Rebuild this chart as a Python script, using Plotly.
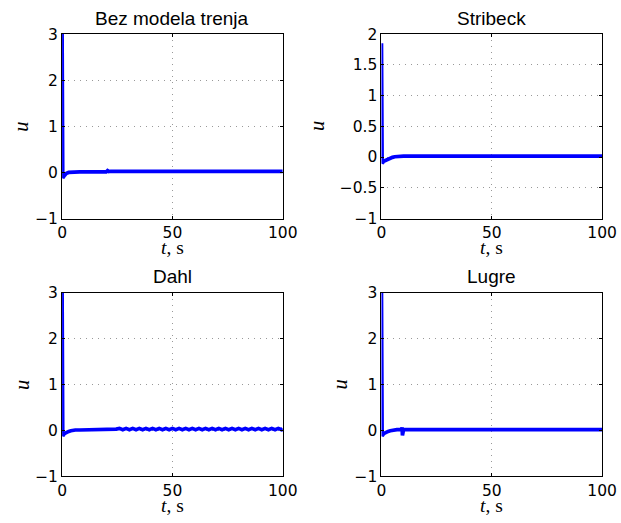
import plotly.graph_objects as go

# ---------------- data ----------------
titles = ["Bez modela trenja", "Stribeck", "Dahl", "Lugre"]

t_bez = [0, 0.3, 0.6, 1, 1.5, 2, 3, 4, 5, 6, 8, 10, 15, 20, 20.6, 21.2, 22, 30, 40, 60, 80, 100]
u_bez = [3.0, -0.12, -0.1, -0.07, -0.04, -0.02, 0.0, 0.005, 0.01, 0.01, 0.01, 0.01, 0.01, 0.01,
         0.04, 0.02, 0.025, 0.025, 0.025, 0.025, 0.025, 0.025]

t_str = [0, 0.3, 0.6, 1, 2, 3, 4, 5, 6, 7, 8, 10, 20, 50, 100]
u_str = [1.85, -0.1, -0.09, -0.07, -0.05, -0.03, -0.015, -0.005, 0.005, 0.01, 0.015, 0.015,
         0.015, 0.015, 0.015]

t_dahl = [0, 0.3, 0.6, 1, 2, 3, 4, 5, 6, 8, 10, 15, 20, 20.6,
          24.5, 26, 27.5, 29, 30.5, 32, 33.5, 35, 36.5, 38, 39.5, 41, 42.5, 44,
          45.5, 47, 48.5, 50, 51.5, 53, 54.5, 56, 57.5, 59, 60.5, 62, 63.5, 65, 66.5, 68,
          69.5, 71, 72.5, 74, 75.5, 77, 78.5, 80, 81.5, 83, 84.5, 86, 87.5, 89, 90.5, 92,
          93.5, 95, 96.5, 98, 99.5, 100]
u_dahl = [3.0, -0.12, -0.1, -0.07, -0.04, -0.02, -0.005, 0.005, 0.01, 0.01, 0.01, 0.01, 0.01, 0.03,
          0.03, 0.045, 0.015, 0.045, 0.015, 0.045, 0.015, 0.045, 0.015, 0.045, 0.015, 0.045,
          0.015, 0.045, 0.015, 0.045, 0.015, 0.045, 0.015, 0.045, 0.015, 0.045, 0.015, 0.045,
          0.015, 0.045, 0.015, 0.045, 0.015, 0.045, 0.015, 0.045, 0.015, 0.045, 0.015, 0.045,
          0.015, 0.045, 0.015, 0.045, 0.015, 0.045, 0.015, 0.045, 0.015, 0.045, 0.015, 0.045,
          0.015, 0.045, 0.015, 0.045, 0.015, 0.03]

t_lug = [0, 0.3, 0.6, 1, 2, 3, 4, 5, 6, 7, 9.2, 9.35, 9.5, 9.65, 10, 15, 50, 100]
u_lug = [3.0, -0.12, -0.1, -0.07, -0.04, -0.02, -0.005, 0.005, 0.015, 0.02, 0.02, 0.07, -0.11,
         0.02, 0.02, 0.02, 0.02, 0.02]

x_ticks = [0, 50, 100]
y_ticks_main = [-1, 0, 1, 2, 3]
y_ticks_str = [-1, -0.5, 0, 0.5, 1, 1.5, 2]
y_range_main = [-1, 3]
y_range_str = [-1, 2]

series = [(t_bez, u_bez), (t_str, u_str), (t_dahl, u_dahl), (t_lug, u_lug)]

# ---------------- layout ----------------
W, H = 621, 523
col_px = [(59, 287), (389, 617)]
row_px = [(26, 217), (294, 484)]
ylab_gap = [42, 66, 42, 43]

fig = go.Figure()
layout = dict(width=W, height=H, margin=dict(l=0, r=0, t=0, b=0),
              paper_bgcolor="white", plot_bgcolor="white", showlegend=False,
              annotations=[])

tick_font = dict(family="DejaVu Sans", size=15.5, color="black")
for i, (t, u) in enumerate(series):
    r, c = divmod(i, 2)
    n = "" if i == 0 else str(i + 1)
    x0, x1 = col_px[c]
    y0, y1 = row_px[r]
    xd = [x0 / W, x1 / W]
    yd = [1 - y1 / H, 1 - y0 / H]
    fig.add_trace(go.Scatter(x=t, y=u, mode="lines", xaxis="x" + n, yaxis="y" + n,
                             line=dict(color="#0000ff", width=3.7)))
    common = dict(showline=True, linecolor="black", linewidth=1, mirror="ticks",
                  ticks="inside", ticklen=3, tickcolor="black", showgrid=True,
                  gridcolor="#999999", griddash="1px,5px", gridwidth=1,
                  zeroline=False, tickfont=tick_font)
    layout["xaxis" + n] = dict(domain=xd, anchor="y" + n, range=[0, 100],
                               tickvals=x_ticks, **common)
    if i == 1:
        layout["yaxis" + n] = dict(domain=yd, anchor="x" + n, range=y_range_str,
                                   tickvals=y_ticks_str, **common)
    else:
        layout["yaxis" + n] = dict(domain=yd, anchor="x" + n, range=y_range_main,
                                   tickvals=y_ticks_main, **common)
    cx = (x0 + x1) / 2 / W
    # title
    layout["annotations"].append(dict(
        text=titles[i], x=cx, y=1 - (y0 - 16.5) / H, xref="paper", yref="paper",
        xanchor="center", yanchor="middle", showarrow=False,
        font=dict(family="Liberation Sans", size=19, color="black")))
    # x label
    layout["annotations"].append(dict(
        text="<i>t</i>, s", x=cx, y=1 - (y1 + 30) / H, xref="paper", yref="paper",
        xanchor="center", yanchor="middle", showarrow=False,
        font=dict(family="Liberation Serif", size=19.5, color="black")))
    # y label
    layout["annotations"].append(dict(
        text="<i>u</i>", x=(x0 - ylab_gap[i]) / W, y=1 - ((y0 + y1) / 2) / H,
        xref="paper", yref="paper",
        xanchor="center", yanchor="middle", showarrow=False, textangle=-90,
        font=dict(family="Liberation Serif", size=20.5, color="black")))

fig.update_layout(**layout)
fig.write_html("out.html", config={"displayModeBar": False},
               post_script="document.body.style.margin='0';document.body.style.padding='0';"
                           "document.documentElement.style.overflow='hidden';")
